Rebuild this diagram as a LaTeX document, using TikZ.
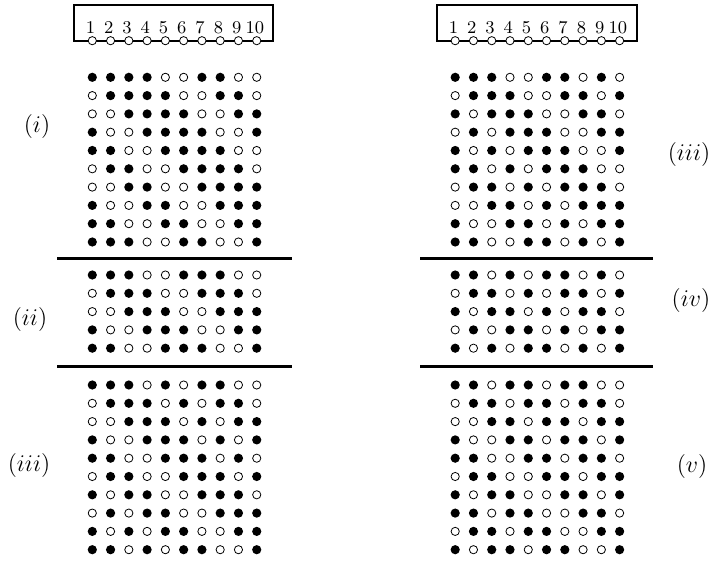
\documentclass[tikz,border=0pt]{standalone}
\usepackage{tikz}

% one block of dots, rows given as lists of 1 (filled) and 0 (open)
\newcommand{\dotblock}[4]{%
  \foreach \row [count=\ri] in {#4} {
    \foreach \v [count=\ci] in \row {
      \node[d\v] (#3-\ri-\ci) at ({#1+(\ci-1)*18.27},{#2+(\ri-1)*18.3}) {};
    }
  }
}

\begin{document}
\begin{tikzpicture}[x=0.5pt, y=-0.5pt,
    d1/.style={circle, fill=black, inner sep=0pt, minimum size=4.6pt},
    d0/.style={circle, draw, line width=0.4pt, inner sep=0pt, minimum size=4.1pt},
    port/.style={circle, draw, fill=white, line width=0.4pt, inner sep=0pt, minimum size=4.1pt},
    sep/.style={line width=1.3pt},
    lab/.style={font=\large}]
  \useasboundingbox (0,0) rectangle (713,561);

  % connectors at the top
  \draw[line width=1pt] (74,4.7) rectangle (273.3,40.7);
  \draw[line width=1pt] (437.3,4.7) rectangle (636.7,40.7);
  \foreach \k in {1,...,10} {
    \node[port] (lp\k) at ({92.3+(\k-1)*18.27},40.7) {};
    \node[anchor=south, inner sep=0pt, font=\small] (ln\k) at ({90.5+(\k-1)*18.27},34) {\k};
    \node[port] (rp\k) at ({455.2+(\k-1)*18.27},40.7) {};
    \node[anchor=south, inner sep=0pt, font=\small] (rn\k) at ({453.5+(\k-1)*18.27},34) {\k};
  }

  % left column
  \dotblock{92.3}{77.3}{la}{
    {1,1,1,1,0,0,1,1,0,0},{0,1,1,1,1,0,0,1,1,0},{0,0,1,1,1,1,0,0,1,1},
    {1,0,0,1,1,1,1,0,0,1},{1,1,0,0,1,1,1,1,0,0},{0,1,1,0,0,1,1,1,1,0},
    {0,0,1,1,0,0,1,1,1,1},{1,0,0,1,1,0,0,1,1,1},{1,1,0,0,1,1,0,0,1,1},
    {1,1,1,0,0,1,1,0,0,1}}
  \dotblock{92.3}{275}{lb}{
    {1,1,1,0,0,1,1,1,0,0},{0,1,1,1,0,0,1,1,1,0},{0,0,1,1,1,0,0,1,1,1},
    {1,0,0,1,1,1,0,0,1,1},{1,1,0,0,1,1,1,0,0,1}}
  \dotblock{92.3}{385}{lc}{
    {1,1,1,0,1,0,1,1,0,0},{0,1,1,1,0,1,0,1,1,0},{0,0,1,1,1,0,1,0,1,1},
    {1,0,0,1,1,1,0,1,0,1},{1,1,0,0,1,1,1,0,1,0},{0,1,1,0,0,1,1,1,0,1},
    {1,0,1,1,0,0,1,1,1,0},{0,1,0,1,1,0,0,1,1,1},{1,0,1,0,1,1,0,0,1,1},
    {1,1,0,1,0,1,1,0,0,1}}
  \draw[sep] (57,258.3) -- (292,258.3);
  \draw[sep] (57,366.7) -- (292,366.7);

  % right column
  \dotblock{455.2}{77.3}{ra}{
    {1,1,1,0,0,1,1,0,1,0},{0,1,1,1,0,0,1,1,0,1},{1,0,1,1,1,0,0,1,1,0},
    {0,1,0,1,1,1,0,0,1,1},{1,0,1,0,1,1,1,0,0,1},{1,1,0,1,0,1,1,1,0,0},
    {0,1,1,0,1,0,1,1,1,0},{0,0,1,1,0,1,0,1,1,1},{1,0,0,1,1,0,1,0,1,1},
    {1,1,0,0,1,1,0,1,0,1}}
  \dotblock{455.2}{275}{rb}{
    {1,1,0,1,0,1,1,0,1,0},{0,1,1,0,1,0,1,1,0,1},{1,0,1,1,0,1,0,1,1,0},
    {0,1,0,1,1,0,1,0,1,1},{1,0,1,0,1,1,0,1,0,1}}
  \dotblock{455.2}{385}{rc}{
    {1,1,0,1,1,0,1,1,0,0},{0,1,1,0,1,1,0,1,1,0},{0,0,1,1,0,1,1,0,1,1},
    {1,0,0,1,1,0,1,1,0,1},{1,1,0,0,1,1,0,1,1,0},{0,1,1,0,0,1,1,0,1,1},
    {1,0,1,1,0,0,1,1,0,1},{1,1,0,1,1,0,0,1,1,0},{0,1,1,0,1,1,0,0,1,1},
    {1,0,1,1,0,1,1,0,0,1}}
  \draw[sep] (420,258.3) -- (653,258.3);
  \draw[sep] (420,366.7) -- (653,366.7);

  % labels
  \node[lab] (li) at (37,127) {$(i)$};
  \node[lab] (lii) at (30,320) {$(ii)$};
  \node[lab] (liii) at (29,466) {$(iii)$};
  \node[lab] (riii) at (689,155) {$(iii)$};
  \node[lab] (riv) at (691,301) {$(iv)$};
  \node[lab] (rv) at (692,467) {$(v)$};
\end{tikzpicture}
\end{document}
